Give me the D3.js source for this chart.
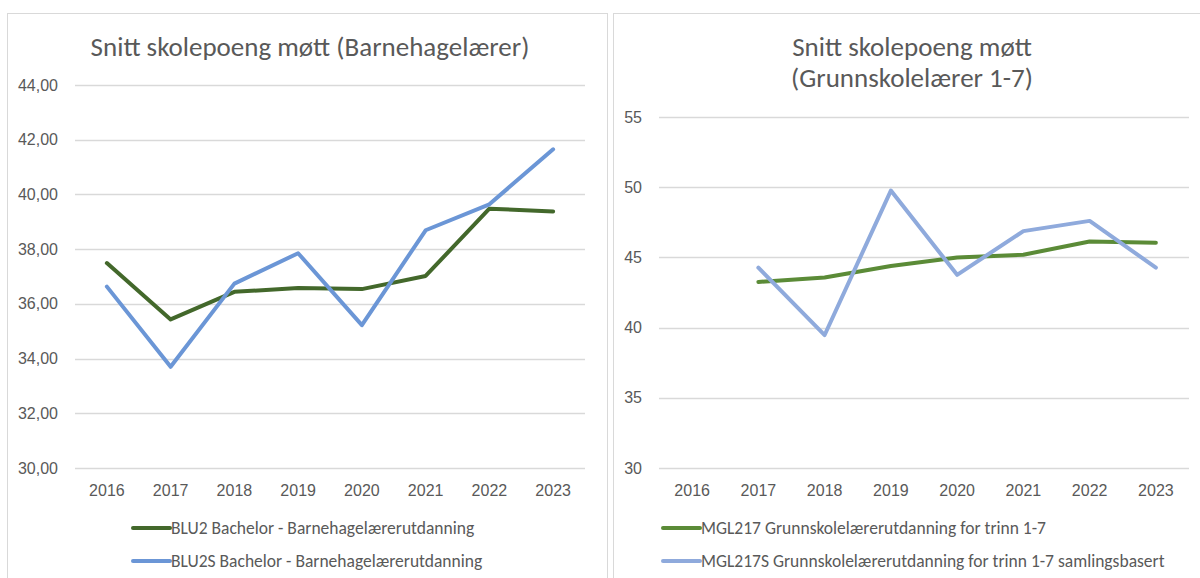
<!DOCTYPE html>
<html>
<head>
<meta charset="utf-8">
<script src="https://cdn.jsdelivr.net/npm/d3@7"></script>
<style>
  body { margin: 0; background: #fff; }
  svg { display: block; font-family: Calibri, Carlito, "Open Sans", "Liberation Sans", sans-serif; }
</style>
</head>
<body>
<div id="chart"></div>
<script>
// years on the x axis (shared)
const years = ["2016", "2017", "2018", "2019", "2020", "2021", "2022", "2023"];

// left chart: Barnehagelærer
const leftTitle = ["Snitt skolepoeng møtt (Barnehagelærer)"];
const leftTicks = [30, 32, 34, 36, 38, 40, 42, 44];
const blu2 = [37.49, 35.43, 36.44, 36.58, 36.54, 37.02, 39.48, 39.38];
const blu2s = [36.63, 33.70, 36.74, 37.85, 35.22, 38.69, 39.64, 41.65];
const leftNames = ["BLU2 Bachelor - Barnehagelærerutdanning", "BLU2S Bachelor - Barnehagelærerutdanning"];

// right chart: Grunnskolelærer 1-7 (no value for 2016)
const rightTitle = ["Snitt skolepoeng møtt", "(Grunnskolelærer 1-7)"];
const rightTicks = [30, 35, 40, 45, 50, 55];
const mgl217 = [null, 43.25, 43.57, 44.39, 45.0, 45.19, 46.13, 46.04];
const mgl217s = [null, 44.27, 39.47, 49.76, 43.76, 46.87, 47.6, 44.27];
const rightNames = ["MGL217 Grunnskolelærerutdanning for trinn 1-7", "MGL217S Grunnskolelærerutdanning for trinn 1-7 samlingsbasert"];

const W = 1200, H = 578;
const textColor = "#595959";
const gridColor = "#d9d9d9";

const svg = d3.select("#chart").append("svg")
  .attr("width", W).attr("height", H);

// panel frames (bottom edge falls outside the picture)
svg.append("rect").attr("x", 7.5).attr("y", 13.5).attr("width", 600).attr("height", 600)
  .attr("fill", "none").attr("stroke", gridColor);
svg.append("rect").attr("x", 613.5).attr("y", 13.5).attr("width", 600).attr("height", 600)
  .attr("fill", "none").attr("stroke", gridColor);

function drawPanel(cfg) {
  const g = svg.append("g");

  const x = d3.scaleBand().domain(years).range([cfg.x0, cfg.x1]);
  const y = d3.scaleLinear().domain(cfg.domain).range([cfg.yBottom, cfg.yTop]);

  // title
  g.selectAll(".title").data(cfg.title).enter().append("text")
    .attr("x", cfg.titleX).attr("y", (d, i) => cfg.titleY + i * 31)
    .attr("text-anchor", "middle")
    .style("font-size", "27px").style("fill", textColor)
    .text(d => d);

  // gridlines
  g.selectAll(".grid").data(cfg.ticks).enter().append("line")
    .attr("x1", cfg.x0).attr("x2", cfg.x1)
    .attr("y1", d => Math.round(y(d)) + 0.5).attr("y2", d => Math.round(y(d)) + 0.5)
    .attr("stroke", gridColor).attr("stroke-width", 1.3);

  // y axis
  const yAxis = g.append("g")
    .attr("transform", "translate(" + cfg.x0 + ",0)")
    .call(d3.axisLeft(y).tickValues(cfg.ticks).tickSize(0).tickPadding(17).tickFormat(cfg.fmt));
  yAxis.select(".domain").remove();
  yAxis.selectAll("text").style("font-size", "16px").style("fill", textColor).style("font-family", null);

  // x axis
  const xAxis = g.append("g")
    .attr("transform", "translate(0," + cfg.yBottom + ")")
    .call(d3.axisBottom(x).tickSize(0).tickPadding(17));
  xAxis.select(".domain").remove();
  xAxis.selectAll("text").style("font-size", "16px").style("fill", textColor).style("font-family", null);

  // lines
  const line = d3.line()
    .defined(d => d != null)
    .x((d, i) => x(years[i]) + x.bandwidth() / 2)
    .y(d => y(d));

  cfg.series.forEach(function(s) {
    g.append("path")
      .datum(s.values)
      .attr("d", line)
      .attr("fill", "none")
      .attr("stroke", s.color)
      .attr("stroke-width", 4)
      .attr("stroke-linejoin", "round")
      .attr("stroke-linecap", "round");
  });

  // legend
  const leg = g.selectAll(".legend").data(cfg.series).enter().append("g")
    .attr("transform", (d, i) => "translate(" + cfg.legX + "," + (528 + i * 33) + ")");
  leg.append("line").attr("x1", 0).attr("x2", 37)
    .attr("stroke", d => d.color).attr("stroke-width", 4).attr("stroke-linecap", "round");
  leg.append("text").attr("x", 38).attr("y", 6)
    .style("font-size", "17.5px").style("fill", textColor)
    .text(d => d.name);
}

drawPanel({
  x0: 75, x1: 585, yTop: 85, yBottom: 468,
  domain: [30, 44], ticks: leftTicks, fmt: d => d3.format(".2f")(d).replace(".", ","),
  title: leftTitle, titleX: 310, titleY: 56,
  legX: 133,
  series: [
    { name: leftNames[0], values: blu2, color: "#43682b" },
    { name: leftNames[1], values: blu2s, color: "#6b96d6" }
  ]
});

drawPanel({
  x0: 659, x1: 1189, yTop: 117, yBottom: 468,
  domain: [30, 55], ticks: rightTicks, fmt: d => d,
  title: rightTitle, titleX: 912, titleY: 56,
  legX: 663,
  series: [
    { name: rightNames[0], values: mgl217, color: "#5b8b37" },
    { name: rightNames[1], values: mgl217s, color: "#8faadc" }
  ]
});
</script>
</body>
</html>
